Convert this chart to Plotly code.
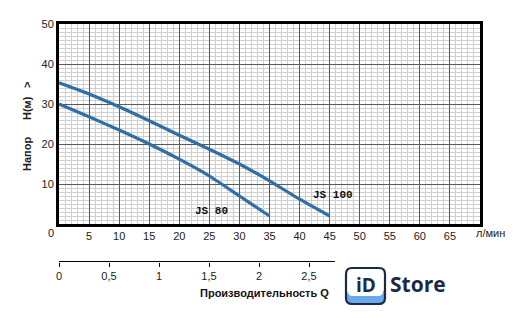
import plotly.graph_objects as go

# Data
flow_js100 = [0, 5, 10, 15, 20, 25, 30, 35, 40, 45]
head_js100 = [35.3, 32.5, 29.3, 25.8, 22.2, 18.7, 15.0, 10.8, 6.2, 2.0]
flow_js80 = [0, 5, 10, 15, 20, 25, 30, 35]
head_js80 = [30.0, 26.8, 23.5, 20.0, 16.2, 12.0, 7.0, 2.0]
x_ticks = [5, 10, 15, 20, 25, 30, 35, 40, 45, 50, 55, 60, 65]
y_ticks = [10, 20, 30, 40, 50]
q_ticks = [0, 0.5, 1, 1.5, 2, 2.5]
q_labels = ["0", "0,5", "1", "1,5", "2", "2,5"]
q_range = [0, 2.76]

W, H = 524, 318
L, R, T, B = 59, 480, 24, 262
PLOT_BOTTOM = 224

def px(x):
    return (x - L) / (R - L)

def py(y):
    return (B - y) / (B - T)

LINE = "#2f6fa5"
fig = go.Figure()
fig.add_trace(go.Scatter(x=flow_js100, y=head_js100, mode="lines",
                         line=dict(color=LINE, width=3.2, shape="spline", smoothing=0.6),
                         hoverinfo="skip", showlegend=False))
fig.add_trace(go.Scatter(x=flow_js80, y=head_js80, mode="lines",
                         line=dict(color=LINE, width=3.2, shape="spline", smoothing=0.6),
                         hoverinfo="skip", showlegend=False))
# secondary (flow m3/h) axis baseline, drawn on its own axis
fig.add_trace(go.Scatter(x=q_range, y=[0, 0], xaxis="x2", yaxis="y2", mode="lines",
                         line=dict(color="black", width=1.3),
                         hoverinfo="skip", showlegend=False, cliponaxis=False))

tickfont = dict(family="Arial, Liberation Sans", size=11, color="#222")
fig.update_layout(
    width=W, height=H,
    margin=dict(l=L, r=W - R, t=T, b=H - B),
    paper_bgcolor="white", plot_bgcolor="white",
    xaxis=dict(range=[0, 70], domain=[0, 1], anchor="y",
               tickvals=x_ticks, ticks="", tickfont=tickfont,
               showgrid=True, gridcolor="#5a5a5a", gridwidth=1,
               minor=dict(dtick=1, tick0=0, showgrid=True, gridcolor="#cfcfcf", gridwidth=1),
               showline=True, linecolor="black", linewidth=3, mirror=True,
               zeroline=False, fixedrange=True),
    yaxis=dict(range=[0, 50], domain=[py(PLOT_BOTTOM), 1],
               tickvals=y_ticks, ticks="", tickfont=tickfont,
               showgrid=True, gridcolor="#5a5a5a", gridwidth=1,
               minor=dict(dtick=1, tick0=0, showgrid=True, gridcolor="#cfcfcf", gridwidth=1),
               showline=True, linecolor="black", linewidth=3, mirror=True,
               zeroline=False, fixedrange=True),
    xaxis2=dict(range=q_range, domain=[0, px(335)], anchor="y2",
                side="bottom",
                tickvals=q_ticks, ticktext=q_labels, ticks="outside", ticklen=4,
                tickcolor="black", tickfont=tickfont,
                showline=False,
                showgrid=False, zeroline=False, fixedrange=True),
    yaxis2=dict(domain=[0, 0.004], range=[-1, 1], visible=False, anchor="x2", fixedrange=True,
                showline=False, zeroline=False, showgrid=False),
)

ann = []
def add_text(text, x, y, size=11, bold=False, family="Arial, Liberation Sans",
             color="#222", xanchor="center", angle=0):
    ann.append(dict(text=("<b>%s</b>" % text) if bold else text,
                    x=px(x), y=py(y), xref="paper", yref="paper",
                    showarrow=False, xanchor=xanchor, yanchor="middle",
                    textangle=angle,
                    font=dict(family=family, size=size, color=color)))

add_text("0", 51, 233)
add_text("л/мин", 490, 233)
add_text("Напор", 27, 154, size=11, bold=True, angle=-90)
add_text("H(м)", 27, 108, size=11, bold=True, angle=-90)
add_text("&gt;", 27, 85, size=11, bold=True, angle=-90)
add_text("JS 100", 333, 195, size=11, bold=True, family="Liberation Mono, Courier New", color="#111")
add_text("JS 80", 211, 211, size=11, bold=True, family="Liberation Mono, Courier New", color="#111")
add_text("Производительность Q", 331, 293, size=11, bold=True, color="#111", xanchor="right")

# Logo
NAVY = "#1c2a47"
x0, x1, y0, y1, r = 346, 385, 268, 304, 6
def rounded_path(x0, y0, x1, y1, r):
    X = lambda v: px(v)
    Y = lambda v: py(v)
    return (f"M {X(x0+r)},{Y(y0)} L {X(x1-r)},{Y(y0)} Q {X(x1)},{Y(y0)} {X(x1)},{Y(y0+r)} "
            f"L {X(x1)},{Y(y1-r)} Q {X(x1)},{Y(y1)} {X(x1-r)},{Y(y1)} "
            f"L {X(x0+r)},{Y(y1)} Q {X(x0)},{Y(y1)} {X(x0)},{Y(y1-r)} "
            f"L {X(x0)},{Y(y0+r)} Q {X(x0)},{Y(y0)} {X(x0+r)},{Y(y0)} Z")

shapes = [
    dict(type="path", xref="paper", yref="paper",
         path=rounded_path(x0 + 1, 289, x1, y1, r),
         fillcolor="#6aa9ee", line=dict(width=0), layer="above"),
    dict(type="path", xref="paper", yref="paper",
         path=rounded_path(x0 + 2, 283, x1 - 2, 296, 5),
         fillcolor="white", line=dict(width=0), layer="above"),
    dict(type="path", xref="paper", yref="paper",
         path=rounded_path(x0, y0, x1, y1, r),
         fillcolor="rgba(0,0,0,0)", line=dict(color=NAVY, width=2.2), layer="above"),
]
ann.append(dict(text="<b>iD</b>", x=px(365.5), y=py(285), xref="paper", yref="paper",
                showarrow=False, xanchor="center", yanchor="middle",
                font=dict(family="Open Sans", size=19, color=NAVY)))
ann.append(dict(text="<b>Store</b>", x=px(388), y=py(284), xref="paper", yref="paper",
                showarrow=False, xanchor="left", yanchor="middle",
                font=dict(family="Open Sans", size=21, color=NAVY)))

fig.update_layout(annotations=ann, shapes=shapes)
fig.write_html("out.html")
